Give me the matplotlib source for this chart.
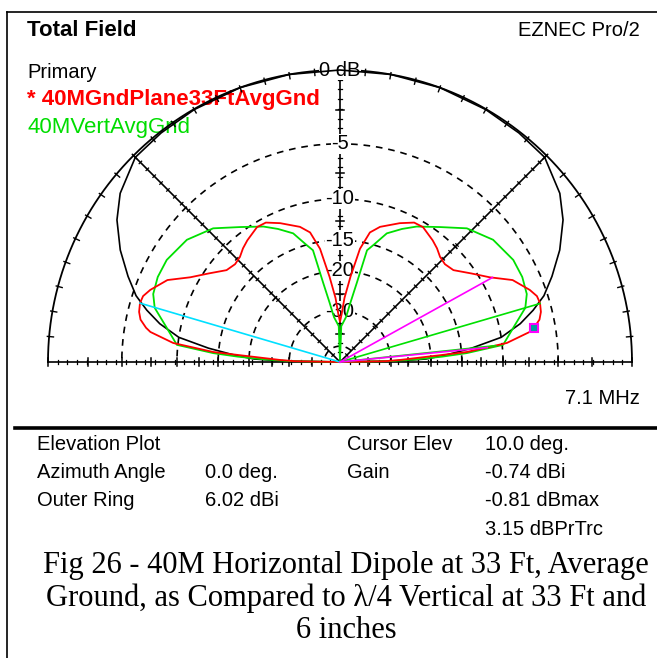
import numpy as np
import matplotlib
matplotlib.use("Agg")
import matplotlib.pyplot as plt

# elevation pattern traces, 0..90 deg side (pattern is symmetric), gain in dB below outer ring
el_black = [0, 1, 2, 3, 4, 6, 8.7, 12, 15, 18, 22, 27, 32.5, 37.5, 45, 52, 60, 70, 80, 90]
db_black = [-100, -28, -21, -19, -17, -13.6, -10.0, -7.9, -6.5, -5.3, -4.2, -2.9, -1.7, -0.9,
            -0.15, -0.08, -0.03, 0, 0, 0]

el_red = [0, 1, 2, 3, 4.5, 6.5, 9, 10, 12, 14, 16.4, 18.5, 20.8, 25.4, 29.5, 34, 39, 43,
          46.4, 49.5, 52.7, 58.4, 62, 66.7, 73.5, 77, 80, 83, 86, 88, 90]
db_red = [-100, -32, -27, -22.9, -14.3, -9.5, -7.2, -6.76, -6.16, -5.9, -5.78, -5.85, -6.24,
          -7.28, -9.08, -10.5, -11.9, -12.2, -12.0, -11.5, -11.1, -10.5, -10.55, -11.3, -12.5,
          -13.5, -16.0, -21, -26, -31, -34]

el_green = [0, 1, 2, 3, 4, 6, 11.5, 16.3, 20, 25, 30.5, 38.6, 46.5, 53.5, 60.5, 65, 70, 74,
            76.4, 78, 80, 82.4, 85, 88, 90]
db_green = [-100, -30, -23, -18, -14.3, -9.9, -8.54, -7.1, -6.6, -6.4, -6.4, -6.85, -7.9, -9.5,
            -10.8, -11.8, -13, -15, -16, -22, -27, -32, -34, -36, -100]

ring_db = [-5, -10, -15, -20, -30, -50]
ring_labels = ["-5", "-10", "-15", "-20", "-30", ""]
major_tick_db = [0, -2.5, -5, -7.5, -10, -12.5, -15, -20, -25, -30, -40]

cursor_el = 10.0
cyan_el = [163.6]
green_el = [16.3, 6.0]
magenta_el = [29.0, 5.6]

info_left = [("Elevation Plot", ""), ("Azimuth Angle", "0.0 deg."), ("Outer Ring", "6.02 dBi")]
info_right = [("Cursor Elev", "10.0 deg."), ("Gain", "-0.74 dBi"), ("", "-0.81 dBmax"),
              ("", "3.15 dBPrTrc")]
caption = ["Fig 26 - 40M Horizontal Dipole at 33 Ft, Average",
           "Ground, as Compared to \u03bb/4 Vertical at 33 Ft and",
           "6 inches"]


def arrl(db):
    # ARRL log scale used by EZNEC: 0.89 per 2 dB
    return 0.89 ** (-np.asarray(db, dtype=float) / 2.0)


def full(el, db):
    el = np.asarray(el, float)
    db = np.asarray(db, float)
    e = np.concatenate([el, 180 - el[::-1][1:]])
    d = np.concatenate([db, db[::-1][1:]])
    return e, d


def xy(el, db):
    r = arrl(db)
    t = np.radians(el)
    return r * np.cos(t), r * np.sin(t)


plt.rcParams["font.family"] = ["Liberation Sans", "DejaVu Sans"]
fs = 14.5

fig = plt.figure(figsize=(6.57, 6.58), dpi=100)
bg = fig.add_axes([0, 0, 1, 1])
bg.set_xlim(0, 657)
bg.set_ylim(658, 0)
bg.axis("off")

# frame
bg.plot([7, 7], [12, 658], color="black", lw=1.2)
bg.plot([7, 657], [12, 12], color="black", lw=1.2)
bg.plot([15, 657], [428, 428], color="black", lw=2.6)

bg.text(27, 30, "Total Field", fontsize=16, fontweight="bold", va="center")
bg.text(640, 30, "EZNEC Pro/2", fontsize=fs, va="center", ha="right")
bg.text(27, 72, "Primary", fontsize=fs, va="center")
bg.text(27, 99, "* 40MGndPlane33FtAvgGnd", fontsize=16, fontweight="bold", color="#ff0000",
        va="center", zorder=1)
bg.text(27, 127, "40MVertAvgGnd", fontsize=16, color="#00dd00", va="center", zorder=1)
bg.text(640, 398, "7.1 MHz", fontsize=fs, va="center", ha="right")

for i, (a, b) in enumerate(info_left):
    bg.text(37, 444 + 28 * i, a, fontsize=fs, va="center")
    bg.text(205, 444 + 28 * i, b, fontsize=fs, va="center")
for i, (a, b) in enumerate(info_right):
    bg.text(347, 444 + 28.5 * i, a, fontsize=fs, va="center")
    bg.text(485, 444 + 28.5 * i, b, fontsize=fs, va="center")

for i, line in enumerate(caption):
    bg.text(346, 566 + 32.5 * i, line, fontsize=22, family="Liberation Serif",
            ha="center", va="center")

# polar plot area: center at (340, 362) px, outer ring radius 292 px
ax = fig.add_axes([48 / 657, (658 - 362) / 658, 584 / 657, 292 / 658])
ax.set_xlim(-1, 1)
ax.set_ylim(0, 1)
ax.axis("off")
ax.patch.set_alpha(0)

th = np.linspace(0, np.pi, 361)
ax.plot(np.cos(th), np.sin(th), color="black", lw=1.3, clip_on=False)
for r in arrl(ring_db):
    ax.plot(r * np.cos(th), r * np.sin(th), color="black", lw=1.2,
            dashes=(4, 3.5), clip_on=False)


def tick(a, r, half, lw=1.0):
    px, py = -np.sin(a), np.cos(a)
    cx, cy = r * np.cos(a), r * np.sin(a)
    ax.plot([cx - half * px, cx + half * px], [cy - half * py, cy + half * py],
            color="black", lw=lw, clip_on=False)


minor_r = np.arange(1, 30) / 30.0
for ang in [0, 45, 90, 135, 180]:
    a = np.radians(ang)
    ax.plot([0, np.cos(a)], [0, np.sin(a)], color="black", lw=1.2, clip_on=False)
    for r in minor_r:
        tick(a, r, 0.006, 0.9)
    if ang in (0, 90, 180):
        for r in arrl(major_tick_db):
            tick(a, r, 0.013, 1.1)
# outer ring ticks every 5 deg
for ang in np.radians(np.arange(5, 180, 5)):
    ax.plot([0.985 * np.cos(ang), 1.006 * np.cos(ang)],
            [0.985 * np.sin(ang), 1.006 * np.sin(ang)], color="black", lw=1.0, clip_on=False)

# ring labels on vertical axis
ax.text(0, 1.0, "0 dB", fontsize=fs, ha="center", va="center", zorder=3,
        bbox=dict(facecolor="white", edgecolor="none", pad=0.3))
for d, lab in zip(ring_db, ring_labels):
    if lab:
        ax.text(0, arrl(d), lab, fontsize=fs, ha="center", va="center", zorder=3,
                bbox=dict(facecolor="white", edgecolor="none", pad=0.3))

# traces
eb, dbb = full(el_black, db_black)
er, dbr = full(el_red, db_red)
eg, dbg = full(el_green, db_green)
ax.plot(*xy(eb, dbb), color="black", lw=1.2, zorder=4, clip_on=False)
ax.plot(*xy(eg, dbg), color="#00e000", lw=1.3, zorder=5, clip_on=False)
ax.plot(*xy(er, dbr), color="#ff0000", lw=1.3, zorder=6, clip_on=False)


def ray(el, color):
    d = np.interp(el, er, dbr)
    x, y = xy(el, d)
    ax.plot([0, x], [0, y], color=color, lw=1.2, zorder=7, clip_on=False)


for e in cyan_el:
    ray(e, "#00e0ff")
for e in green_el:
    ray(e, "#00e000")
for e in magenta_el:
    ray(e, "#ff00ff")

cx, cy = xy(cursor_el, np.interp(cursor_el, er, dbr))
ax.plot(cx, cy, "s", ms=6, mfc="#00a0a0", mec="#ff00ff", mew=1.5, zorder=8, clip_on=False)

fig.savefig("out.png", dpi=100)
